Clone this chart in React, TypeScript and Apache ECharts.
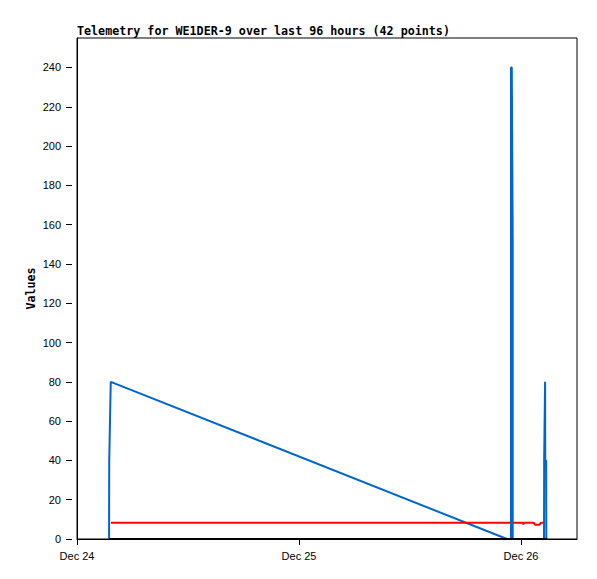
import React, { useEffect, useRef } from "react";
import * as echarts from "echarts";

const TITLE = "Telemetry for WE1DER-9 over last 96 hours (42 points)";
const Y_NAME = "Values";
const YEAR = 2023;

const blueRampTimes = ["24 03:28", "24 03:29", "24 03:39", "25 22:29"];
const blueRampValues = [0, 40, 80, 0];

const blueSpikeTimes = ["25 22:29", "25 22:55", "25 22:55", "25 23:00", "25 23:06", "25 23:06", "26 02:29", "26 02:30", "26 02:36", "26 02:37", "26 02:43", "26 02:44"];
const blueSpikeValues = [0, 0, 240, 240, 152, 0, 0, 40, 80, 40, 40, 0];

const redTimes = ["24 03:40", "25 22:29", "25 23:08", "26 00:10", "26 00:15", "26 00:19", "26 01:21", "26 01:31", "26 02:00", "26 02:10", "26 02:36"];
const redValues = [8.3, 8.3, 8.3, 8.3, 7.5, 8.3, 8.3, 7.3, 7.3, 8.3, 8.3];

const blackTimes = ["24 03:28", "25 22:29", "26 02:50"];
const blackValues = [0, 0, 0];

const xTickDays = [24, 25, 26];
const yTicks = [0, 20, 40, 60, 80, 100, 120, 140, 160, 180, 200, 220, 240];
const yMax = 255;

const DAY = 86400000;
const ts = (s: string) => {
  const [d, hm] = s.split(" ");
  const [h, m] = hm.split(":");
  return Date.UTC(YEAR, 11, +d, +h, +m);
};
const pair = (times: string[], vals: number[]) => times.map((t, i) => [ts(t), vals[i]]);

const X_MIN = Date.UTC(YEAR, 11, 24);
const X_MAX = Date.UTC(YEAR, 11, 26, 6, 3);

export default function App() {
  const ref = useRef<HTMLDivElement>(null);
  useEffect(() => {
    document.body.style.margin = "0";
    const chart = echarts.init(ref.current!, null, { renderer: "svg" });
    const sans = "Liberation Sans";
    const mono = "DejaVu Sans Mono";
    const xTickVals = xTickDays.map((d) => Date.UTC(YEAR, 11, d));
    chart.setOption({
      animation: false,
      backgroundColor: "#ffffff",
      title: {
        text: TITLE,
        left: 77,
        top: 25,
        padding: 0,
        textStyle: { fontFamily: mono, fontWeight: "bold", fontSize: 11.7, color: "#000" },
      },
      grid: { left: 77, right: 20, top: 38, bottom: 40, show: true, borderColor: "#000", borderWidth: 1, backgroundColor: "#fff" },
      xAxis: {
        type: "value",
        min: X_MIN,
        max: X_MAX,
        interval: DAY,
        axisLine: { show: true, lineStyle: { color: "#000", width: 1 } },
        axisTick: { show: true, length: 6, customValues: xTickVals, lineStyle: { color: "#000" } },
        axisLabel: {
          customValues: xTickVals,
          margin: 11,
          fontFamily: sans,
          fontSize: 11,
          color: "#000",
          formatter: (v: number) => "Dec " + new Date(v).getUTCDate(),
        },
        splitLine: { show: false },
      },
      yAxis: [
        {
          type: "value",
          min: 0,
          max: yMax,
          interval: 20,
          name: Y_NAME,
          nameLocation: "middle",
          nameGap: 40,
          nameMoveOverlap: false,
          nameTextStyle: { fontFamily: mono, fontWeight: "bold", fontSize: 11.7, color: "#000" },
          axisLine: { show: true, lineStyle: { color: "#000", width: 1 } },
          axisTick: { show: false },
          axisLabel: {
            customValues: yTicks,
            margin: 16,
            fontFamily: sans,
            fontSize: 11,
            color: "#000",
          },
          splitLine: { show: false },
        },
        {
          type: "value",
          position: "left",
          offset: 5,
          min: 0,
          max: yMax,
          interval: 20,
          axisLine: { show: false },
          axisTick: { show: true, length: 6, customValues: yTicks, lineStyle: { color: "#000" } },
          axisLabel: { show: false },
          splitLine: { show: false },
        },
      ],
      series: [
        {
          type: "line",
          data: pair(blueRampTimes, blueRampValues),
          showSymbol: false,
          lineStyle: { color: "#0066cc", width: 2 },
          z: 2,
        },
        {
          type: "line",
          data: pair(redTimes, redValues),
          showSymbol: false,
          lineStyle: { color: "#ff0000", width: 2 },
          z: 3,
        },
        {
          type: "line",
          data: pair(blueSpikeTimes, blueSpikeValues),
          showSymbol: false,
          lineStyle: { color: "#0066cc", width: 2 },
          z: 4,
        },
        {
          type: "line",
          data: pair(blackTimes, blackValues),
          showSymbol: false,
          lineStyle: { color: "#000000", width: 2 },
          z: 5,
        },
      ],
    });
    return () => chart.dispose();
  }, []);
  return <div ref={ref} style={{ width: 597, height: 579 }} />;
}
